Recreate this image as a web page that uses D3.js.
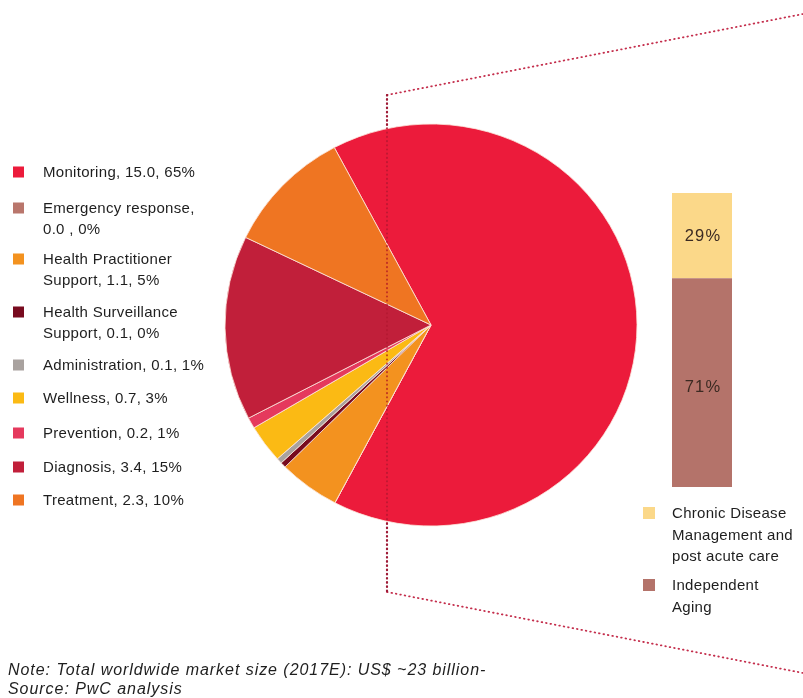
<!DOCTYPE html>
<html>
<head>
<meta charset="utf-8">
<script src="https://cdn.jsdelivr.net/npm/d3@7"></script>
<style>
  html, body { margin: 0; padding: 0; background: #fff; }
  svg { display: block; }
  text { font-family: "Liberation Sans", Arial, sans-serif; }
</style>
</head>
<body>
<svg id="chart" width="803" height="698"></svg>
<script>
// Connected-health market segments, US$ billion (2017E)
const segments = ["Monitoring", "Emergency response", "Health Practitioner Support",
  "Health Surveillance Support", "Administration", "Wellness", "Prevention",
  "Diagnosis", "Treatment"];
const values = [15.0, 0.0, 1.1, 0.1, 0.1, 0.7, 0.2, 3.4, 2.3];
const shares = ["65%", "0%", "5%", "0%", "1%", "3%", "1%", "15%", "10%"];
const legendLines = [
  ["Monitoring, 15.0, 65%"],
  ["Emergency response,", "0.0 , 0%"],
  ["Health Practitioner", "Support, 1.1, 5%"],
  ["Health Surveillance", "Support, 0.1, 0%"],
  ["Administration, 0.1, 1%"],
  ["Wellness, 0.7, 3%"],
  ["Prevention, 0.2, 1%"],
  ["Diagnosis, 3.4, 15%"],
  ["Treatment, 2.3, 10%"]
];
const segmentColors = ["#ec1b3b", "#b9766c", "#f3921f", "#780b1f", "#a9a29f",
  "#fbba14", "#e5395d", "#c11f3a", "#ef7522"];

// Breakdown of the Monitoring segment
const monitoringParts = ["Chronic Disease Management and post acute care", "Independent Aging"];
const monitoringShares = [29, 71];
const monitoringLegend = [["Chronic Disease", "Management and", "post acute care"], ["Independent", "Aging"]];
const monitoringColors = ["#fbd889", "#b4736a"];

const noteLines = ["Note: Total worldwide market size (2017E): US$ ~23 billion-", "Source: PwC analysis"];

const svg = d3.select("#chart");

// ---- Connector lines from the pie to the breakdown bar
const connector = svg.append("g")
  .attr("fill", "none")
  .attr("stroke-linecap", "round");
connector.append("path")
  .attr("d", d3.line()([[387, 95], [803, 14]]))
  .attr("stroke", "#c42e4c").attr("stroke-width", 1.8).attr("stroke-dasharray", "0.6 3.9");
connector.append("path")
  .attr("d", d3.line()([[387, 592], [803, 673]]))
  .attr("stroke", "#c42e4c").attr("stroke-width", 1.8).attr("stroke-dasharray", "0.6 3.9");
connector.append("path")
  .attr("d", d3.line()([[387, 95], [387, 592]]))
  .attr("stroke", "#9e1a36").attr("stroke-width", 2.2).attr("stroke-dasharray", "0.6 3.6");

// ---- Pie
const cx = 431, cy = 325, ry = 201, rx = 206;
const pie = d3.pie().sort(null).value(d => d)
  .startAngle(-28 * Math.PI / 180)
  .endAngle((360 - 28) * Math.PI / 180);
const arc = d3.arc().innerRadius(0).outerRadius(ry);
const pieG = svg.append("g")
  .attr("transform", `translate(${cx},${cy}) scale(${rx / ry},1)`);
pieG.selectAll("path")
  .data(pie(values))
  .join("path")
  .attr("d", arc)
  .attr("fill", (d, i) => segmentColors[i])
  .attr("stroke", "#fbe6dc")
  .attr("stroke-width", 0.8)
  .attr("stroke-linejoin", "round");

// dotted guide passing over the pie, faint on the red slices
svg.append("path")
  .attr("d", d3.line()([[387, 124], [387, 526]]))
  .attr("fill", "none")
  .attr("stroke", "#b0162f").attr("stroke-width", 1.6)
  .attr("stroke-linecap", "round")
  .attr("stroke-dasharray", "0.6 3.6")
  .style("mix-blend-mode", "darken")
  .attr("opacity", 0.9);

// ---- Segment legend
const legendY = [172, 208, 259, 312, 365, 398, 433, 467, 500];
const legend = svg.append("g");
legendLines.forEach((lines, i) => {
  const g = legend.append("g").attr("transform", `translate(0,${legendY[i]})`);
  g.append("rect").attr("x", 13).attr("y", -5.5).attr("width", 11).attr("height", 11)
    .attr("fill", segmentColors[i]);
  lines.forEach((t, j) => {
    g.append("text").attr("x", 43).attr("y", j * 20.5)
      .attr("dy", "0.35em")
      .attr("font-size", 15)
      .attr("letter-spacing", 0.3)
      .attr("fill", "#1e1e1e")
      .text(t);
  });
});

// ---- Breakdown bar for Monitoring
const barX = 672, barW = 60;
const y = d3.scaleLinear().domain([0, 100]).range([193, 487]);
let acc = 0;
const stacked = monitoringShares.map((v, i) => {
  const s = { i, v, y0: acc, y1: acc + v };
  acc += v;
  return s;
});
const barG = svg.append("g");
barG.selectAll("rect")
  .data(stacked)
  .join("rect")
  .attr("x", barX).attr("width", barW)
  .attr("y", d => y(d.y0))
  .attr("height", d => y(d.y1) - y(d.y0))
  .attr("fill", d => monitoringColors[d.i]);
barG.selectAll("text")
  .data(stacked)
  .join("text")
  .attr("x", barX + barW / 2 + 1)
  .attr("y", d => (y(d.y0) + y(d.y1)) / 2 + (d.i === 1 ? 4 : 0))
  .attr("dy", "0.35em")
  .attr("text-anchor", "middle")
  .attr("font-size", 16.5)
  .attr("letter-spacing", 1.2)
  .attr("fill", "#3b2a22")
  .text(d => d.v + "%");

// ---- Breakdown legend
const bLegendY = [513, 585];
monitoringLegend.forEach((lines, i) => {
  const g = svg.append("g").attr("transform", `translate(0,${bLegendY[i]})`);
  g.append("rect").attr("x", 643).attr("y", -6).attr("width", 12).attr("height", 12)
    .attr("fill", monitoringColors[i]);
  lines.forEach((t, j) => {
    g.append("text").attr("x", 672).attr("y", j * 21.5)
      .attr("dy", "0.35em")
      .attr("font-size", 15)
      .attr("letter-spacing", 0.3)
      .attr("fill", "#1e1e1e")
      .text(t);
  });
});

// ---- Note and source
noteLines.forEach((t, j) => {
  svg.append("text")
    .attr("x", 8).attr("y", 669 + j * 19)
    .attr("dy", "0.35em")
    .attr("font-size", 16)
    .attr("letter-spacing", 0.95)
    .attr("font-style", "italic")
    .attr("fill", "#1e1e1e")
    .text(t);
});
</script>
</body>
</html>
